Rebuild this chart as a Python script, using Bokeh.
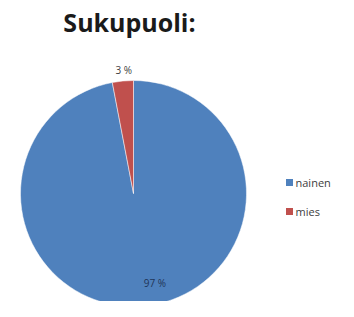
import numpy as np
from bokeh.plotting import figure
from bokeh.models import ColumnDataSource
from bokeh.core.properties import value
from bokeh.embed import file_html
from bokeh.resources import INLINE

title = "Sukupuoli:"
categories = ["nainen", "mies"]
values = [97, 3]
labels = ["97 %", "3 %"]
colors = ["#4F81BD", "#C0504D"]

W, H = 338, 301
p = figure(width=W, height=H, x_range=(0, W), y_range=(0, H),
           output_backend="svg", toolbar_location=None, min_border=0)
p.axis.visible = False
p.grid.visible = False
p.outline_line_color = None

# pie geometry (layout)
cx, cy, r = 133, 108, 113
vals = np.array(values, dtype=float)
frac = vals / vals.sum()
cum = np.cumsum(frac)
# Excel: start at 12 o'clock, going clockwise
a_from = np.pi / 2 - 2 * np.pi * np.concatenate([[0], cum[:-1]])
a_to = np.pi / 2 - 2 * np.pi * cum
start = np.mod(a_to, 2 * np.pi)
end = np.mod(a_from, 2 * np.pi)
src = ColumnDataSource(dict(start=start, end=end, color=colors, cat=categories))
p.wedge(x=cx, y=cy, radius=r, start_angle="start", end_angle="end",
        direction="anticlock", fill_color="color", line_color="white",
        line_width=0.5, source=src)

# data labels
mids = (a_from + a_to) / 2
lab_r = [90, 124]
offs = [13, 2]
lx = [cx + rr * np.cos(a) + o for rr, a, o in zip(lab_r, mids, offs)]
ly = [cy + rr * np.sin(a) for rr, a in zip(lab_r, mids)]
p.text(x=lx, y=ly, text=labels, text_font=value("Open Sans"),
       text_font_size="10px", text_color=["#1F3558", "#404040"],
       text_align="center", text_baseline="middle")

# title
p.text(x=[129], y=[H - 21], text=[title], text_font=value("Open Sans"),
       text_font_size="25px", text_font_style="bold", text_color="#1a1a1a",
       text_align="center", text_baseline="middle")

# legend
leg_y = [H - 182, H - 211]
p.rect(x=[289] * 2, y=leg_y, width=7, height=7, fill_color=colors, line_color=None)
p.text(x=[295] * 2, y=leg_y, text=categories, text_font=value("Open Sans"),
       text_font_size="11px", text_color="#404040", text_align="left",
       text_baseline="middle")

open("out.html", "w").write(file_html(p, INLINE))
